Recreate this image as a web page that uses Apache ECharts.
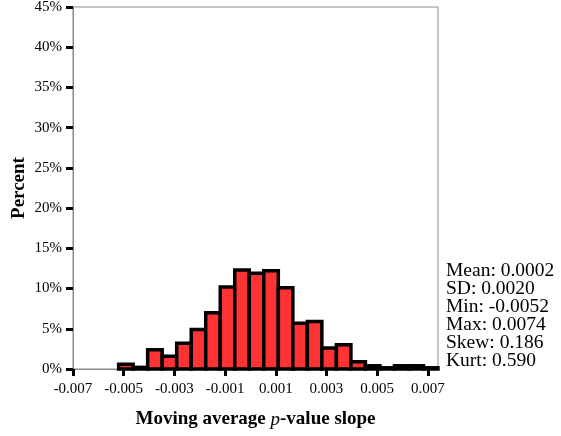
<!DOCTYPE html>
<html>
<head>
<meta charset="utf-8">
<script src="https://cdn.jsdelivr.net/npm/echarts@6/dist/echarts.min.js"></script>
<style>
html,body{margin:0;padding:0;background:#fff;}
#chart{width:561px;height:436px;}
</style>
</head>
<body>
<div id="chart"></div>
<script>
// Histogram bin edges (22 bins from min -0.0052 to max 0.0074)
const binEdges = [-0.0052, -0.004627, -0.004055, -0.003482, -0.002909, -0.002336, -0.001764,
  -0.001191, -0.000618, -0.000045, 0.000527, 0.001100, 0.001673, 0.002245, 0.002818,
  0.003391, 0.003964, 0.004536, 0.005109, 0.005682, 0.006255, 0.006827, 0.0074];
// Percent of observations in each bin
const binPercents = [0.6, 0.2, 2.4, 1.6, 3.2, 4.9, 7.0, 10.2, 12.3, 11.9, 12.2, 10.1,
  5.7, 5.9, 2.6, 3.0, 0.9, 0.4, 0.15, 0.4, 0.4, 0.15];
const xTickLabels = ['-0.007', '-0.005', '-0.003', '-0.001', '0.001', '0.003', '0.005', '0.007'];
const statsLines = ['Mean: 0.0002', 'SD: 0.0020', 'Min: -0.0052', 'Max: 0.0074', 'Skew: 0.186', 'Kurt: 0.590'];

const xTickValues = xTickLabels.map(Number);
const histData = binPercents.map((p, i) => [binEdges[i], binEdges[i + 1], p]);
const serif = '"Liberation Serif", "Times New Roman", serif';

const chart = echarts.init(document.getElementById('chart'), null, {renderer: 'canvas'});
chart.setOption({
  animation: false,
  backgroundColor: '#fff',
  grid: {left: 73, right: 123, top: 7, bottom: 67, containLabel: false, outerBoundsMode: 'none',
    show: true, borderColor: '#8a8a8a', borderWidth: 1, backgroundColor: 'transparent'},
  xAxis: {
    type: 'value', min: -0.007, max: 0.0074,
    name: '{b|Moving average }{i|p}{b|-value slope}',
    nameLocation: 'middle', nameGap: 41, nameMoveOverlap: false,
    nameTextStyle: {
      rich: {
        b: {fontFamily: serif, fontWeight: 'bold', fontSize: 19, color: '#000'},
        i: {fontFamily: serif, fontStyle: 'italic', fontWeight: 'normal', fontSize: 19, color: '#000'}
      }
    },
    axisLine: {show: true, onZero: false, lineStyle: {color: '#8a8a8a', width: 1}},
    axisTick: {show: true, length: 7, customValues: xTickValues, lineStyle: {color: '#000', width: 3}},
    axisLabel: {customValues: xTickValues, formatter: v => xTickLabels[xTickValues.indexOf(v)] ?? String(v),
      fontFamily: serif, fontSize: 15, color: '#000', margin: 13},
    splitLine: {show: false}
  },
  yAxis: {
    type: 'value', min: 0, max: 45, interval: 5,
    name: 'Percent', nameLocation: 'middle', nameGap: 44, nameMoveOverlap: false,
    nameTextStyle: {fontFamily: serif, fontWeight: 'bold', fontSize: 19, color: '#000'},
    axisLine: {show: true, onZero: false, lineStyle: {color: '#8a8a8a', width: 1}},
    axisTick: {show: true, length: 7, lineStyle: {color: '#000', width: 3}},
    axisLabel: {formatter: '{value}%', fontFamily: serif, fontSize: 15, color: '#000', margin: 11},
    splitLine: {show: false}
  },
  series: [{
    type: 'custom',
    clip: false,
    encode: {x: [0, 1], y: 2},
    data: histData,
    renderItem: function (params, api) {
      const x0 = api.value(0), x1 = api.value(1), y = api.value(2);
      const p0 = api.coord([x0, 0]);
      const p1 = api.coord([x1, y]);
      return {
        type: 'rect',
        shape: {x: p0[0], y: p1[1], width: p1[0] - p0[0], height: p0[1] - p1[1]},
        style: {fill: '#FF3333', stroke: '#000', lineWidth: 3.5}
      };
    }
  }],
  graphic: [{
    type: 'text', left: 446, top: 261,
    style: {text: statsLines.join('\n'), font: '19.5px ' + serif, lineHeight: 18, fill: '#000'}
  }]
});
</script>
</body>
</html>
